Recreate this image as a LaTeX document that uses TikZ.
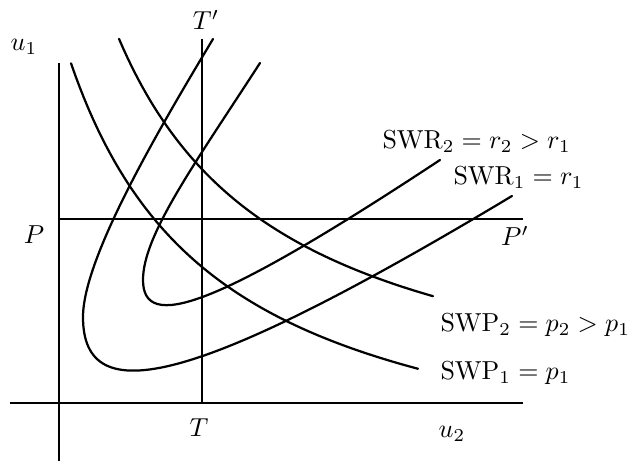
\documentclass[tikz,border=0pt]{standalone}
\tikzset{
  axisline/.style={line width=1.1pt},
  curve/.style={line width=1.9pt, line join=round, line cap=round},
  lbl/.style={inner sep=0pt, scale=2.22}
}
\begin{document}
\begin{tikzpicture}[x=0.03cm, y=-0.03cm]
\useasboundingbox (0,0) rectangle (633,461);
% axes and reference lines
\coordinate (vtop) at (59,63);
\coordinate (vbot) at (59,461);
\coordinate (hl) at (10,403);
\coordinate (hr) at (523,403);
\coordinate (ttop) at (202,39);
\coordinate (tbot) at (202,403);
\coordinate (pl) at (59,219);
\coordinate (pr) at (523,219);
\draw[axisline] (vtop) -- (vbot);
\draw[axisline] (hl) -- (hr);
\draw[axisline] (ttop) -- (tbot);
\draw[axisline] (pl) -- (pr);
% SWP curves
\draw[curve] plot[domain=71:418, samples=80] (\x, {501.7 - 662/((\x+80)/100)});
\draw[curve] plot[domain=119:433, samples=80] (\x, {434.7 - 669/((\x+50)/100)});
% SWR curves
\coordinate (r1a) at (213,39);
\coordinate (r1v) at (83,317);
\coordinate (r1b) at (512,196);
\draw[curve] (r1a) .. controls (161.6,124.7) and (83,257) .. (r1v)
  .. controls (83,412) and (194.9,386.2) .. (r1b);
\coordinate (r2a) at (260,63);
\coordinate (r2v) at (143,280);
\coordinate (r2b) at (440,160);
\draw[curve] (r2a) .. controls (194.8,163.8) and (143,235) .. (r2v)
  .. controls (143,332) and (214.5,308.8) .. (r2b);
% labels
\node[lbl] (u1) at (24,47) {$u_1$};
\node[lbl] (u2) at (452,434) {$u_2$};
\node[lbl] (Tp) at (206,20) {$T'$};
\node[lbl] (T) at (199,428) {$T$};
\node[lbl] (P) at (34,235) {$P$};
\node[lbl] (Pp) at (515,236) {$P'$};
\node[lbl, anchor=base west] (swr2) at (382,149) {$\mathrm{SWR}_2 = r_2 > r_1$};
\node[lbl, anchor=base west] (swr1) at (453,185) {$\mathrm{SWR}_1 = r_1$};
\node[lbl, anchor=base west] (swp2) at (440,332) {$\mathrm{SWP}_2 = p_2 > p_1$};
\node[lbl, anchor=base west] (swp1) at (440,380) {$\mathrm{SWP}_1 = p_1$};
\end{tikzpicture}
\end{document}
